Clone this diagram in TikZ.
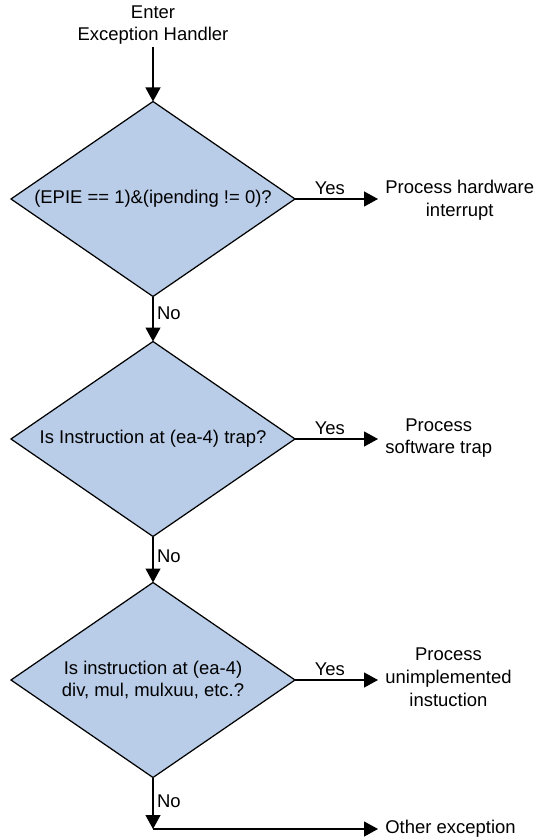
\documentclass[tikz,border=0pt]{standalone}
\usepackage{fontspec}
\setmainfont{Liberation Sans}
\usetikzlibrary{shapes.geometric, arrows.meta}
\definecolor{decfill}{RGB}{185,205,232}
\tikzset{
	decision/.style={diamond, draw, fill=decfill, line width=0.7pt, aspect=1.46,
		inner sep=0pt, outer sep=0pt, minimum width=5.68cm, minimum height=3.9cm, align=center},
	outcome/.style={align=center, inner sep=4pt, anchor=west},
	flow/.style={line width=0.7pt, -{Triangle[length=0.28cm, width=0.3cm]}},
	lbl/.style={inner sep=2pt}
}

\begin{document}
\begin{tikzpicture}[every node/.style={font=\fontsize{10.5}{13}\selectfont}]
		\useasboundingbox (0,0) rectangle (10.7,-16.78);

		% decisions
		\node[align=center, inner sep=1pt] (enter) at (3.06, -0.5) {Enter\\Exception Handler};
		\node[decision] (irq) at (3.06, -3.98) {(EPIE == 1)\&(ipending != 0)?};
		\node[decision] (trap) at (3.06, -8.78) {Is Instruction at (ea-4) trap?};
		\node[decision] (unimp) at (3.06, -13.6) {Is instruction at (ea-4)\\div, mul, mulxuu, etc.?};

		% outcomes
		\node[outcome] (hw) at (7.56, -4.01) {Process hardware\\interrupt};
		\node[outcome] (sw) at (7.56, -8.76) {Process\\software trap};
		\node[outcome] (unimpl) at (7.56, -13.54) {Process\\unimplemented\\instuction};
		\node[outcome] (other) at (7.56, -16.58) {Other exception};

		\coordinate (corner) at (unimp.south |- other.west);

		\draw[flow] (enter.south) -- (irq.north);
		\draw[flow] (irq.south) -- node[lbl, right, pos=0.38] {No} (trap.north);
		\draw[flow] (trap.south) -- node[lbl, right, pos=0.43] {No} (unimp.north);
		\draw[flow] (unimp.south) -- node[lbl, right, pos=0.47] {No} (corner);
		\draw[flow] (corner) -- (other.west);

		\draw[flow] (irq.east) -- node[lbl, above, pos=0.42] {Yes} (irq.east -| hw.west);
		\draw[flow] (trap.east) -- node[lbl, above, pos=0.42] {Yes} (trap.east -| sw.west);
		\draw[flow] (unimp.east) -- node[lbl, above, pos=0.42] {Yes} (unimp.east -| unimpl.west);
	\end{tikzpicture}
\end{document}
